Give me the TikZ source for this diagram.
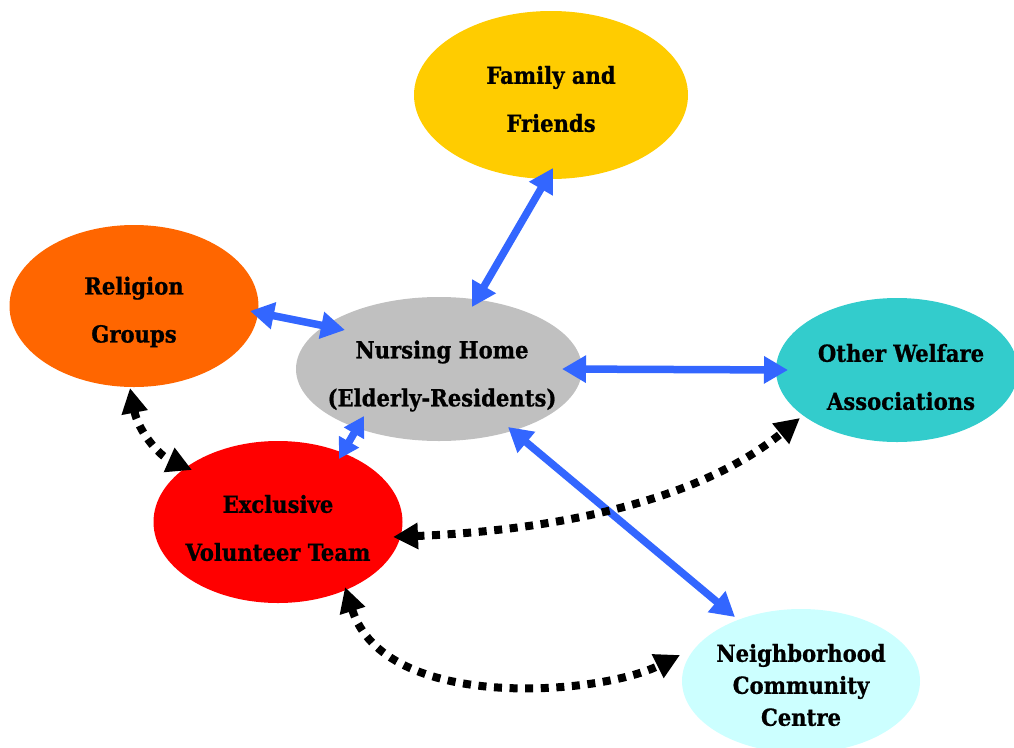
\documentclass[tikz,border=0pt]{standalone}
\usepackage{fontspec}
\newfontfamily\lab{DejaVu Serif Condensed Bold}[FakeBold=0.8]
\usetikzlibrary{shapes.geometric,arrows.meta,calc}
\definecolor{cfam}{HTML}{FFCC00}
\definecolor{crel}{HTML}{FF6600}
\definecolor{cnur}{HTML}{C0C0C0}
\definecolor{cwel}{HTML}{33CCCC}
\definecolor{cexc}{HTML}{FF0000}
\definecolor{cnei}{HTML}{CCFFFF}
\definecolor{cblu}{HTML}{3366FF}
\begin{document}
\begin{tikzpicture}[x=1pt,y=-1pt,
  ell/.style={ellipse,draw=none,inner sep=0pt},
  lbl/.style={align=center,inner sep=0pt,font=\lab\fontsize{23.5}{48}\selectfont},
  lbltri/.style={align=center,inner sep=0pt,font=\lab\fontsize{23.5}{32}\selectfont},
  link/.style={draw=cblu,line width=7.5pt,{Triangle[length=24pt,width=26pt]}-{Triangle[length=24pt,width=26pt]}},
  shortlink/.style={draw=cblu,line width=7.5pt,{Triangle[length=20pt,width=22pt]}-{Triangle[length=20pt,width=22pt]}},
  dots/.style={draw=black,line width=8pt,dash pattern=on 8pt off 7.6pt,{Triangle[length=25pt,width=25pt]}-{Triangle[length=25pt,width=25pt]}}]
\useasboundingbox (0,0) rectangle (1014,747);
\begin{scope}
\clip (0,0) rectangle (1014,747);
\node[ell,fill=cfam,minimum width=274pt,minimum height=168pt] (fa) at (551,95) {};
\node[ell,fill=crel,minimum width=249pt,minimum height=162pt] (rg) at (134,306) {};
\node[ell,fill=cnur,minimum width=286pt,minimum height=144pt] (nh) at (439,369) {};
\node[ell,fill=cwel,minimum width=242pt,minimum height=144pt] (ow) at (897,370) {};
\node[ell,fill=cexc,minimum width=249pt,minimum height=162pt] (ex) at (278,522) {};
\node[ell,fill=cnei,minimum width=238pt,minimum height=144pt] (nc) at (801,681) {};
\end{scope}
\node[lbl] (fat) at ($(fa)+(0,4)$) {Family and\\Friends};
\node[lbl] (rgt) at ($(rg)+(0,6)$) {Religion\\Groups};
\node[lbl] (nht) at ($(nh)+(3,7)$) {Nursing Home\\(Elderly-Residents)};
\node[lbl] (owt) at ($(ow)+(4,7)$) {Other Welfare\\Associations};
\node[lbl] (ext) at ($(ex)+(0,6)$) {Exclusive\\Volunteer Team};
\node[lbltri] (nct) at ($(nc)+(0,4)$) {Neighborhood\\Community\\Centre};
% blue links
\draw[link] ($(fa)+(2,73)$) -- ($(nh)+(33,-62)$);
\draw[link] ($(rg)+(116,5)$) -- ($(nh)+(-94,-39)$);
\draw[link] ($(nh)+(123,0)$) -- ($(ow)+(-109,0)$);
\draw[link] ($(nh)+(69,58)$) -- ($(nc)+(-66,-64)$);
\draw[shortlink] ($(nh)+(-75,47)$) -- ($(ex)+(61,-63)$);
% dotted links
\draw[dots] ($(rg)+(-4,82)$) .. controls (138,430) and (158,455) .. ($(ex)+(-86,-52)$);
\draw[dots] ($(ex)+(115,15)$) .. controls (560,530) and (700,500) .. ($(ow)+(-97,48)$);
\draw[dots] ($(ex)+(67,65)$) .. controls (385,713) and (600,695) .. ($(nc)+(-121,-26)$);
\end{tikzpicture}
\end{document}
